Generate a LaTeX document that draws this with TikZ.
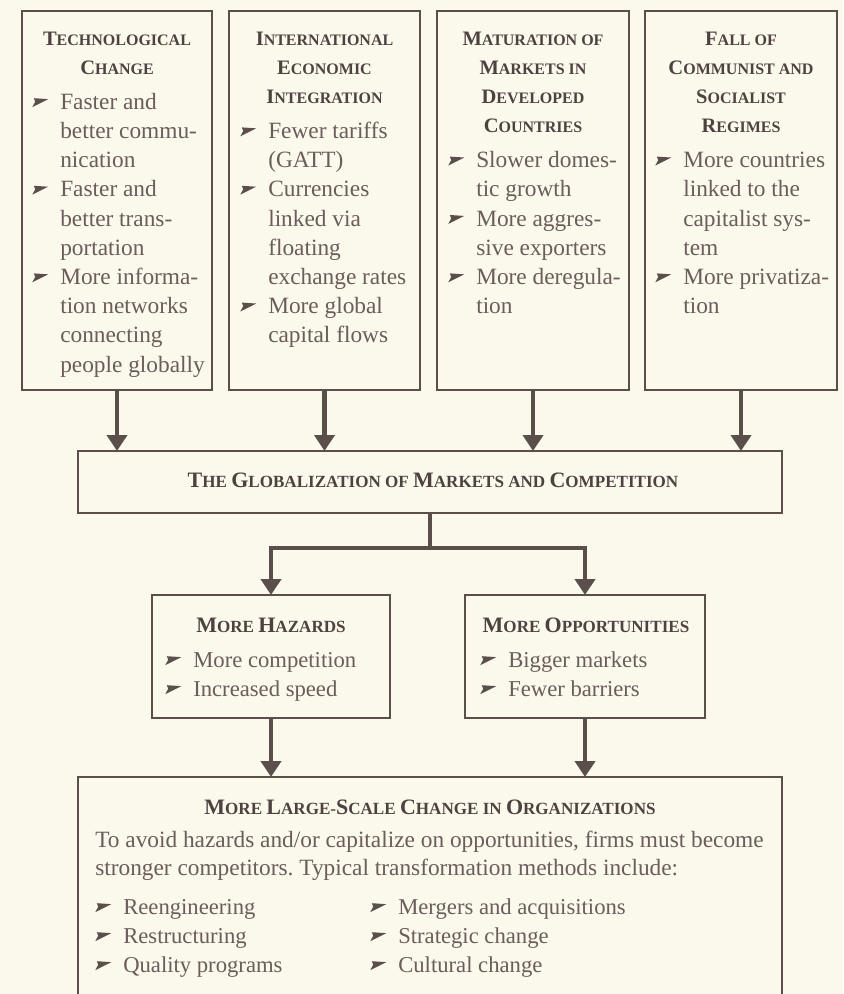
\documentclass[tikz,border=0pt]{standalone}
\usepackage{fontspec}
\setmainfont{Liberation Serif}
\usetikzlibrary{arrows.meta}
\frenchspacing
\definecolor{bg}{HTML}{FBF8EC}
\definecolor{ln}{HTML}{5B4F4C}
\definecolor{tt}{HTML}{4E4240}
\definecolor{tx}{HTML}{6A5D5B}
\newcommand\Ca[1]{{\fontsize{15.4pt}{15pt}\selectfont #1}}
\newcommand\Cb[1]{{\fontsize{12pt}{12pt}\selectfont #1}}
\newcommand\Da[1]{{\fontsize{16.5pt}{16pt}\selectfont #1}}
\newcommand\Db[1]{{\fontsize{12.8pt}{12.8pt}\selectfont #1}}
\newcommand\bulmark{\tikz[x=1pt,y=1pt,baseline=0pt]\fill[ln] (0,1.6) -- (12,7.6) -- (1.2,8.3) -- (2.2,5.6) -- cycle;}
\newcommand\bul{\makebox[21pt][l]{\bulmark}}
\newcommand\ind{\hspace*{21pt}}
\newcommand\fs{\rule{0pt}{16pt}}
\tikzset{
  box/.style={draw=ln, line width=1.1pt, inner sep=0pt, outer sep=0pt, anchor=north west},
  ttl/.style={text=tt, font=\fontsize{12pt}{21.9pt}\bfseries\selectfont, align=center, inner sep=0pt, anchor=north, yshift=16pt},
  mttl/.style={text=tt, font=\fontsize{12.8pt}{21.9pt}\bfseries\selectfont, align=center, inner sep=0pt, anchor=north, yshift=16pt},
  bodyA/.style={text=tx, font=\fontsize{17.5pt}{21.9pt}\selectfont, align=left, inner sep=0pt, anchor=north west, yshift=16pt},
  bodyB/.style={text=tx, font=\fontsize{17pt}{21.75pt}\selectfont, align=left, inner sep=0pt, anchor=north west, yshift=16pt},
  bodyC/.style={text=tx, font=\fontsize{17.5pt}{21pt}\selectfont, align=left, inner sep=0pt, anchor=north west, yshift=16pt},
  edge/.style={draw=ln, line width=2pt},
  conn/.style={draw=ln, line width=3.4pt},
  arr/.style={draw=ln, line width=3.4pt, -{Triangle[width=15pt,length=12pt]}},
}
\begin{document}
\begin{tikzpicture}[x=0.75pt,y=-0.75pt]
\useasboundingbox (0,0) rectangle (843,994);
\clip (0,0) rectangle (843,994);
\fill[bg] (0,0) rectangle (843,994);

% top boxes
\node[box, minimum width=190*0.75pt, minimum height=379*0.75pt] (b1) at (22,11) {};
\node[box, minimum width=191*0.75pt, minimum height=379*0.75pt] (b2) at (229,11) {};
\node[box, minimum width=192*0.75pt, minimum height=379*0.75pt] (b3) at (437,11) {};
\node[box, minimum width=192*0.75pt, minimum height=379*0.75pt] (b4) at (645,11) {};
\foreach \b in {b1,b2,b3,b4}{
  \draw[edge] (\b.north west) -- (\b.north east);
  \draw[edge] (\b.south west) -- (\b.south east);
}

\node[ttl] (t1) at (117,45) {\fs\Ca{T}\Cb{ECHNOLOGICAL}\\\Ca{C}\Cb{HANGE}};
\node[bodyA] (p1) at (32,109) {\fs\bul Faster and\\ \ind better commu-\\ \ind nication\\ \bul Faster and\\ \ind better trans-\\ \ind portation\\ \bul More informa-\\ \ind tion networks\\ \ind connecting\\ \ind people globally};

\node[ttl] (t2) at (324.5,45) {\fs\Ca{I}\Cb{NTERNATIONAL}\\\Ca{E}\Cb{CONOMIC}\\\Ca{I}\Cb{NTEGRATION}};
\node[bodyA] (p2) at (240,138.2) {\fs\bul Fewer tariffs\\ \ind (GATT)\\ \bul Currencies\\ \ind linked via\\ \ind floating\\ \ind exchange rates\\ \bul More global\\ \ind capital flows};

\node[ttl] (t3) at (533,45) {\fs\Ca{M}\Cb{ATURATION OF}\\\Ca{M}\Cb{ARKETS IN}\\\Ca{D}\Cb{EVELOPED}\\\Ca{C}\Cb{OUNTRIES}};
\node[bodyA] (p3) at (448,167.4) {\fs\bul Slower domes-\\ \ind tic growth\\ \bul More aggres-\\ \ind sive exporters\\ \bul More deregula-\\ \ind tion};

\node[ttl] (t4) at (741,45) {\fs\Ca{F}\Cb{ALL OF}\\\Ca{C}\Cb{OMMUNIST AND}\\\Ca{S}\Cb{OCIALIST}\\\Ca{R}\Cb{EGIMES}};
\node[bodyA] (p4) at (655,167.4) {\fs\bul More countries\\ \ind linked to the\\ \ind capitalist sys-\\ \ind tem\\ \bul More privatiza-\\ \ind tion};

% globalization
\node[box, minimum width=704*0.75pt, minimum height=62*0.75pt] (glob) at (78,451) {};
\draw[edge] (glob.north west) -- (glob.north east);
\draw[edge] (glob.south west) -- (glob.south east);
\node[mttl] (tg) at (433,487) {\fs\Da{T}\Db{HE} \Da{G}\Db{LOBALIZATION OF} \Da{M}\Db{ARKETS AND} \Da{C}\Db{OMPETITION}};

% hazards / opportunities
\node[box, minimum width=238*0.75pt, minimum height=123*0.75pt] (haz) at (152,595) {};
\node[box, minimum width=240*0.75pt, minimum height=123*0.75pt] (opp) at (465,595) {};
\foreach \b in {haz,opp}{
  \draw[edge] (\b.north west) -- (\b.north east);
  \draw[edge] (\b.south west) -- (\b.south east);
}
\node[mttl] (th) at (271,632) {\fs\Da{M}\Db{ORE} \Da{H}\Db{AZARDS}};
\node[bodyB] (ph) at (165,667) {\fs\bul More competition\\ \bul Increased speed};
\node[mttl] (to) at (586,632) {\fs\Da{M}\Db{ORE} \Da{O}\Db{PPORTUNITIES}};
\node[bodyB] (po) at (480,667) {\fs\bul Bigger markets\\ \bul Fewer barriers};

% bottom box
\node[box, minimum width=704*0.75pt, minimum height=240*0.75pt] (bot) at (78,777) {};
\draw[edge] (bot.north west) -- (bot.north east);
\node[mttl] (tb) at (430,814) {\fs\Da{M}\Db{ORE} \Da{L}\Db{ARGE-}\Da{S}\Db{CALE} \Da{C}\Db{HANGE IN} \Da{O}\Db{RGANIZATIONS}};
\node[bodyC] (pb) at (95,847) {\fs To avoid hazards and/or capitalize on opportunities, firms must become\\ stronger competitors. Typical transformation methods include:};
\node[bodyB] (l1) at (95,914) {\fs\bul Reengineering\\ \bul Restructuring\\ \bul Quality programs};
\node[bodyB] (l2) at (370,914) {\fs\bul Mergers and acquisitions\\ \bul Strategic change\\ \bul Cultural change};

% connectors
\foreach \b in {b1,b2,b3,b4}{
  \draw[arr] (\b.south) -- (glob.north -| \b.south);
}
\coordinate (j) at (430,548);
\draw[conn] (glob.south) -- (j);
\draw[arr] (j) -| (haz.north);
\draw[arr] (j) -| (opp.north);
\draw[arr] (haz.south) -- (bot.north -| haz.south);
\draw[arr] (opp.south) -- (bot.north -| opp.south);
\end{tikzpicture}
\end{document}
